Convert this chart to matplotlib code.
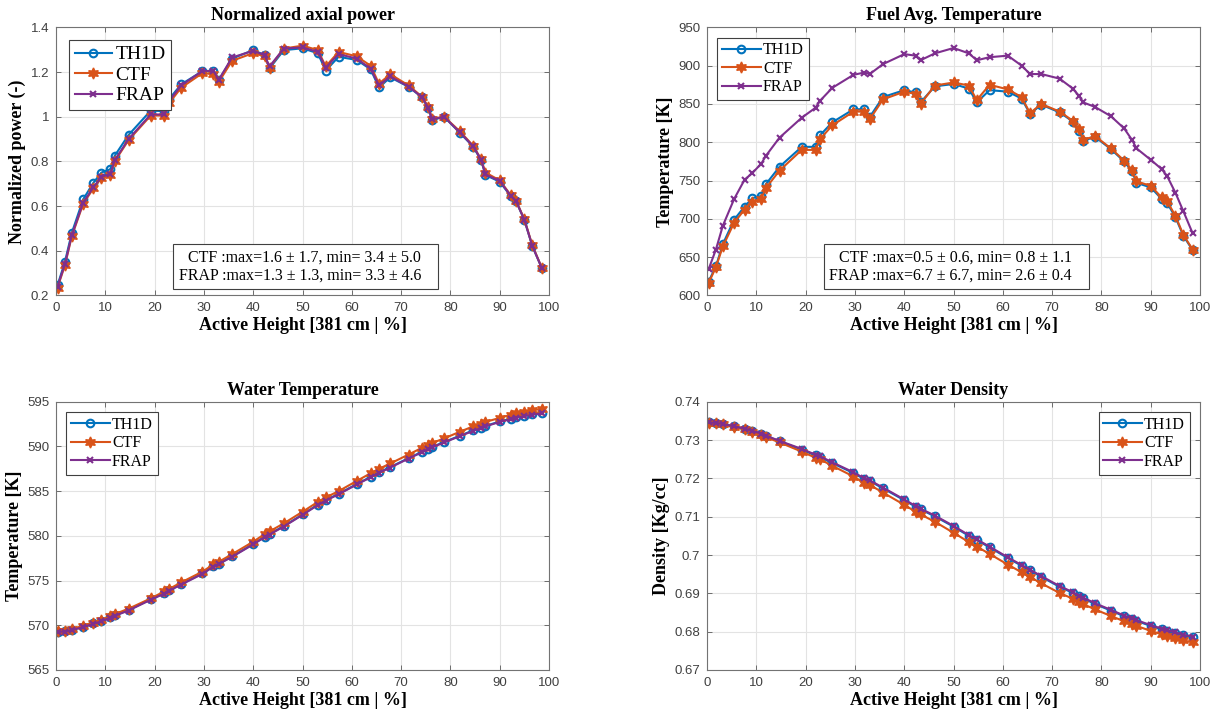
import numpy as np
from matplotlib import pyplot as plt
from matplotlib.patches import Rectangle
from matplotlib.ticker import FormatStrFormatter

# axial positions [% of 381 cm]
height = [0.3, 1.8, 3.2, 5.5, 7.6, 9.2, 11.0, 11.9, 14.7, 19.2, 22.0, 22.9, 25.4, 29.7,
          31.9, 33.0, 35.7, 40.0, 42.3, 43.3, 46.2, 50.0, 53.1, 54.7, 57.3, 61.0, 63.8,
          65.5, 67.8, 71.5, 74.2, 75.5, 76.3, 78.7, 81.9, 84.6, 86.2, 87.1, 90.0, 92.2,
          93.3, 95.0, 96.6, 98.5]

power_th1d = [0.245, 0.35, 0.48, 0.63, 0.705, 0.75, 0.765, 0.825, 0.918, 1.027, 1.025, 1.078,
              1.145, 1.204, 1.204, 1.164, 1.26, 1.298, 1.276, 1.216, 1.298, 1.306, 1.284,
              1.206, 1.268, 1.254, 1.212, 1.131, 1.176, 1.134, 1.087, 1.037, 0.985, 1.0,
              0.928, 0.866, 0.806, 0.739, 0.709, 0.645, 0.622, 0.537, 0.421, 0.324]
power_ctf = [0.235, 0.335, 0.465, 0.61, 0.68, 0.725, 0.74, 0.80, 0.895, 1.005, 1.005, 1.06,
             1.13, 1.195, 1.19, 1.155, 1.25, 1.285, 1.27, 1.22, 1.305, 1.318, 1.298, 1.225,
             1.29, 1.27, 1.228, 1.148, 1.19, 1.14, 1.09, 1.045, 0.99, 1.0, 0.935, 0.87,
             0.81, 0.75, 0.715, 0.65, 0.625, 0.54, 0.425, 0.325]
power_frap = [0.24, 0.34, 0.47, 0.615, 0.685, 0.73, 0.745, 0.805, 0.90, 1.01, 1.01, 1.07,
              1.14, 1.205, 1.205, 1.165, 1.265, 1.295, 1.275, 1.225, 1.305, 1.31, 1.29,
              1.22, 1.28, 1.26, 1.215, 1.14, 1.18, 1.135, 1.088, 1.04, 0.988, 1.0, 0.93,
              0.868, 0.808, 0.742, 0.712, 0.647, 0.623, 0.538, 0.422, 0.324]

fuel_th1d = [618, 638, 667, 699, 716, 727, 730, 745, 768, 794, 794, 809, 826, 843, 843, 833,
             859, 868, 865, 852, 873, 876, 870, 852, 868, 866, 857, 837, 849, 839, 827, 815,
             802, 807, 791, 775, 762, 747, 741, 726, 721, 702, 678, 659]
fuel_ctf = [616, 637, 664, 695, 712, 722, 726, 740, 763, 790, 790, 804, 822, 840, 840, 830,
            856, 866, 863, 850, 874, 878, 874, 855, 875, 869, 859, 838, 850, 840, 828, 817,
            803, 808, 792, 776, 764, 749, 743, 728, 723, 704, 679, 660]
fuel_frap = [634, 660, 691, 726, 751, 760, 772, 782, 806, 832, 845, 854, 871, 888, 891, 889,
             902, 915, 913, 907, 916, 923, 916, 907, 911, 913, 900, 889, 889, 883, 870, 860,
             852, 846, 834, 818, 803, 792, 777, 765, 756, 734, 710, 681]

wtemp_th1d = [569.3, 569.35, 569.5, 569.85, 570.2, 570.5, 570.9, 571.1, 571.7, 572.9, 573.6,
              573.9, 574.6, 575.8, 576.6, 576.9, 577.7, 579.1, 579.9, 580.2, 581.1, 582.4,
              583.5, 584.0, 584.7, 585.8, 586.6, 587.1, 587.7, 588.7, 589.4, 589.75, 589.95,
              590.5, 591.2, 591.8, 592.1, 592.3, 592.8, 593.1, 593.25, 593.45, 593.6, 593.75]
wtemp_ctf = [569.35, 569.4, 569.55, 569.95, 570.3, 570.6, 571.0, 571.25, 571.85, 573.0, 573.8,
             574.05, 574.8, 576.0, 576.8, 577.1, 577.95, 579.35, 580.2, 580.5, 581.4, 582.7,
             583.8, 584.3, 585.0, 586.15, 587.0, 587.5, 588.1, 589.1, 589.85, 590.2, 590.4,
             590.9, 591.65, 592.25, 592.55, 592.75, 593.2, 593.55, 593.7, 593.9, 594.05, 594.2]
wtemp_frap = [569.25, 569.3, 569.45, 569.8, 570.15, 570.45, 570.85, 571.05, 571.65, 572.85,
              573.55, 573.85, 574.55, 575.75, 576.55, 576.85, 577.65, 579.05, 579.85, 580.15,
              581.05, 582.35, 583.45, 583.95, 584.65, 585.75, 586.55, 587.05, 587.65, 588.65,
              589.35, 589.7, 589.9, 590.45, 591.15, 591.75, 592.05, 592.25, 592.75, 593.05,
              593.2, 593.4, 593.55, 593.7]

dens_th1d = [0.7346, 0.7345, 0.7342, 0.7336, 0.7330, 0.7323, 0.7316, 0.7311, 0.7297, 0.7275,
             0.7260, 0.7256, 0.7240, 0.7214, 0.7198, 0.7193, 0.7174, 0.7143, 0.7126, 0.7119,
             0.7101, 0.7074, 0.7050, 0.7039, 0.7020, 0.6992, 0.6972, 0.6960, 0.6943, 0.6917,
             0.6901, 0.6892, 0.6887, 0.6872, 0.6855, 0.6840, 0.6833, 0.6828, 0.6815, 0.6806,
             0.6802, 0.6796, 0.6790, 0.6785]
dens_ctf = [0.7345, 0.7344, 0.7341, 0.7334, 0.7328, 0.7321, 0.7313, 0.7308, 0.7294, 0.7270,
            0.7254, 0.7250, 0.7233, 0.7205, 0.7188, 0.7183, 0.7163, 0.7131, 0.7113, 0.7106,
            0.7087, 0.7058, 0.7034, 0.7022, 0.7003, 0.6975, 0.6955, 0.6943, 0.6926, 0.6901,
            0.6886, 0.6877, 0.6872, 0.6858, 0.6841, 0.6827, 0.6820, 0.6815, 0.6802, 0.6793,
            0.6789, 0.6783, 0.6777, 0.6772]
dens_frap = [0.7346, 0.7345, 0.7342, 0.7336, 0.7330, 0.7324, 0.7317, 0.7312, 0.7298, 0.7277,
             0.7262, 0.7258, 0.7242, 0.7216, 0.7200, 0.7195, 0.7176, 0.7145, 0.7128, 0.7121,
             0.7103, 0.7076, 0.7052, 0.7041, 0.7022, 0.6994, 0.6974, 0.6962, 0.6945, 0.6919,
             0.6903, 0.6894, 0.6889, 0.6874, 0.6857, 0.6842, 0.6835, 0.6830, 0.6817, 0.6808,
             0.6804, 0.6798, 0.6792, 0.6787]

serif = 'Liberation Serif'
sans = 'Liberation Sans'
c_th1d, c_ctf, c_frap = '#0072BD', '#D95319', '#7E2F8E'


def panel(ax, th1d, ctf, frap, title, ylabel, ylim, ystep, legloc, legsize, hlen, note=None):
    ax.plot(height, th1d, '-o', color=c_th1d, lw=1.5, ms=5.5, mfc='none', mew=1.5, label='TH1D')
    ax.plot(height, ctf, '-', marker=(6, 1, 0), color=c_ctf, lw=1.5, ms=8, label='CTF')
    ax.plot(height, frap, '-x', color=c_frap, lw=1.5, ms=4.5, mew=1.5, label='FRAP')
    ax.set_xlim(0, 100)
    ax.set_ylim(*ylim)
    ax.set_xticks(np.arange(0, 101, 10))
    ax.set_yticks(np.arange(ylim[0], ylim[1] + ystep / 2, ystep))
    ax.yaxis.set_major_formatter(FormatStrFormatter('%g'))
    ax.grid(True, color='#e3e3e3', lw=0.8)
    ax.set_axisbelow(True)
    for s in ax.spines.values():
        s.set_color('0.45')
        s.set_linewidth(0.8)
    ax.tick_params(direction='in', top=True, right=True, length=3.5, width=0.6,
                   color='0.35', labelcolor='#404040', labelsize=9.5, pad=5)
    for lab in ax.get_xticklabels() + ax.get_yticklabels():
        lab.set_family(sans)
    ax.set_title(title, family=serif, weight='bold', fontsize=13, pad=5)
    ax.set_xlabel('Active Height [381 cm | %]', family=serif, weight='bold', fontsize=13, labelpad=2)
    ax.set_ylabel(ylabel, family=serif, weight='bold', fontsize=13, labelpad=3)
    leg = ax.legend(loc=legloc, numpoints=1, fancybox=False, framealpha=1, edgecolor='0.25',
                    prop={'family': serif, 'size': legsize}, handlelength=hlen,
                    handletextpad=0.15, labelspacing=0.15, borderpad=0.3, borderaxespad=0.65)
    leg.get_frame().set_linewidth(0.8)
    if note:
        ax.add_patch(Rectangle((0.237, 0.024), 0.538, 0.168, transform=ax.transAxes,
                               fc='white', ec='0.25', lw=0.8, zorder=5))
        ax.text(0.74, 0.108, note, transform=ax.transAxes, ha='right', va='center',
                multialignment='right', family=serif, fontsize=11.5, linespacing=1.15, zorder=6)


fig = plt.figure(figsize=(12.18, 7.17), dpi=100)
ax1 = fig.add_axes([0.0460, 0.5879, 0.4048, 0.374])
ax2 = fig.add_axes([0.5805, 0.5879, 0.4048, 0.374])
ax3 = fig.add_axes([0.0460, 0.0656, 0.4048, 0.374])
ax4 = fig.add_axes([0.5805, 0.0656, 0.4048, 0.374])

panel(ax1, power_th1d, power_ctf, power_frap, 'Normalized axial power', 'Normalized power (-)',
      (0.2, 1.4), 0.2, 'upper left', 14, 1.95,
      'CTF :max=1.6 \u00b1 1.7, min= 3.4 \u00b1 5.0\nFRAP :max=1.3 \u00b1 1.3, min= 3.3 \u00b1 4.6')
panel(ax2, fuel_th1d, fuel_ctf, fuel_frap, 'Fuel Avg. Temperature', 'Temperature [K]',
      (600, 950), 50, 'upper left', 11.5, 2.4,
      'CTF :max=0.5 \u00b1 0.6, min= 0.8 \u00b1 1.1\nFRAP :max=6.7 \u00b1 6.7, min= 2.6 \u00b1 0.4')
panel(ax3, wtemp_th1d, wtemp_ctf, wtemp_frap, 'Water Temperature', 'Temperature [K]',
      (565, 595), 5, 'upper left', 11.5, 2.4)
panel(ax4, dens_th1d, dens_ctf, dens_frap, 'Water Density', 'Density [Kg/cc]',
      (0.67, 0.74), 0.01, 'upper right', 11.5, 2.4)

fig.savefig('out.png', dpi=100)
